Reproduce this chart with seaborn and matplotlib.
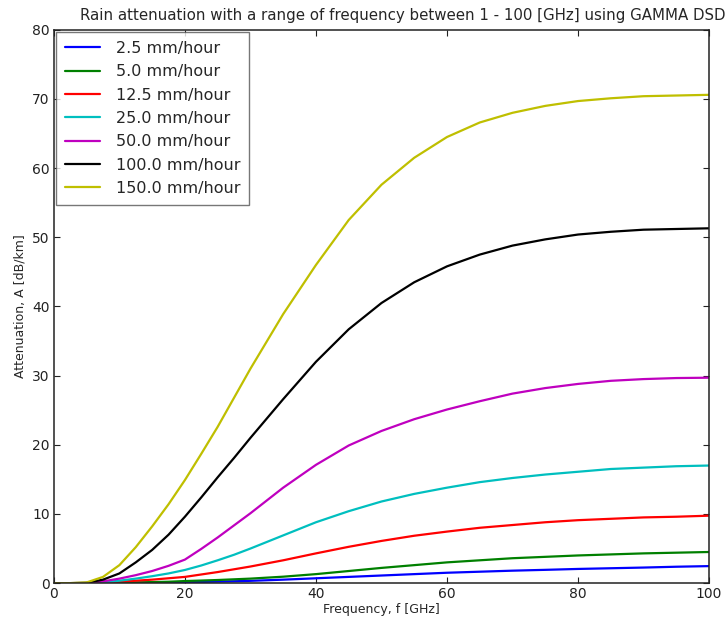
import pandas as pd
import seaborn as sns
import matplotlib
matplotlib.use("Agg")
import matplotlib.pyplot as plt

# frecuencias [GHz]
freq = [0, 2.5, 5, 7.5, 10, 12.5, 15, 17.5, 20, 22.5, 25, 27.5, 30, 35, 40,
        45, 50, 55, 60, 65, 70, 75, 80, 85, 90, 95, 100]

# atenuacion [dB/km] para cada intensidad de lluvia
a_2_5 = [0, 0, 0, 0.01, 0.02, 0.04, 0.07, 0.1, 0.13, 0.17, 0.22, 0.27, 0.33,
         0.5, 0.7, 0.9, 1.1, 1.3, 1.5, 1.65, 1.8, 1.92, 2.05, 2.15, 2.25, 2.37, 2.46]
a_5 = [0, 0, 0, 0.02, 0.05, 0.1, 0.15, 0.2, 0.3, 0.37, 0.45, 0.55, 0.65,
       0.93, 1.3, 1.75, 2.2, 2.6, 3.0, 3.3, 3.6, 3.8, 4.0, 4.15, 4.3, 4.4, 4.5]
a_12_5 = [0, 0, 0, 0.05, 0.2, 0.35, 0.5, 0.7, 0.9, 1.25, 1.6, 2.0, 2.4,
          3.3, 4.3, 5.25, 6.1, 6.85, 7.45, 8.0, 8.4, 8.8, 9.1, 9.3, 9.5, 9.6, 9.75]
a_25 = [0, 0, 0, 0.1, 0.35, 0.65, 1.0, 1.4, 1.9, 2.55, 3.3, 4.1, 5.0,
        6.9, 8.8, 10.4, 11.8, 12.9, 13.8, 14.6, 15.2, 15.7, 16.1, 16.5, 16.7, 16.9, 17.0]
a_50 = [0, 0, 0, 0.25, 0.65, 1.15, 1.75, 2.5, 3.4, 4.95, 6.6, 8.35, 10.1,
        13.8, 17.1, 19.9, 22.0, 23.7, 25.1, 26.3, 27.4, 28.2, 28.8, 29.25, 29.5, 29.65, 29.7]
a_100 = [0, 0, 0.05, 0.5, 1.4, 3.0, 4.8, 7.0, 9.6, 12.4, 15.3, 18.1, 21.0,
         26.6, 32.0, 36.7, 40.5, 43.5, 45.8, 47.5, 48.8, 49.7, 50.4, 50.8, 51.1, 51.2, 51.3]
a_150 = [0, 0, 0.1, 0.9, 2.6, 5.2, 8.2, 11.4, 14.9, 18.7, 22.6, 26.8, 31.0,
         38.9, 46.0, 52.5, 57.6, 61.5, 64.5, 66.6, 68.0, 69.0, 69.7, 70.1, 70.4, 70.5, 70.6]

etiquetas = ["2.5 mm/hour", "5.0 mm/hour", "12.5 mm/hour", "25.0 mm/hour",
             "50.0 mm/hour", "100.0 mm/hour", "150.0 mm/hour"]
series = [a_2_5, a_5, a_12_5, a_25, a_50, a_100, a_150]
colores = [(0, 0, 1), (0, 0.5, 0), (1, 0, 0), (0, 0.75, 0.75),
           (0.75, 0, 0.75), (0, 0, 0), (0.75, 0.75, 0)]

# tabla larga para seaborn
filas = []
for etiqueta, valores in zip(etiquetas, series):
    for f, a in zip(freq, valores):
        filas.append({"f": f, "A": a, "lluvia": etiqueta})
datos = pd.DataFrame(filas)

sns.set_style("ticks")
plt.rcParams["font.family"] = ["DejaVu Sans"]

fig = plt.figure(figsize=(7.28, 6.21), dpi=100)
ax = fig.add_axes([0.074, 0.061, 0.9, 0.891])

sns.lineplot(data=datos, x="f", y="A", hue="lluvia", hue_order=etiquetas,
             palette=colores, linewidth=1.6, ax=ax)

ax.set_xlim(0, 100)
ax.set_ylim(0, 80)
ax.set_xticks([0, 20, 40, 60, 80, 100])
ax.set_yticks(range(0, 81, 10))
ax.tick_params(direction="in", top=True, right=True, length=4,
               labelsize=10, colors="#222222", pad=3)
for s in ax.spines.values():
    s.set_visible(True)
    s.set_linewidth(1.1)
    s.set_color("#222222")

ax.set_xlabel("Frequency, f [GHz]", fontsize=9, labelpad=1)
ax.set_ylabel("Attenuation, A [dB/km]", fontsize=9, labelpad=4)
fig.text(0.997, 0.968,
         "Rain attenuation with a range of frequency between 1 - 100 [GHz] using GAMMA DSD",
         fontsize=10.8, ha="right", va="baseline")

leg = ax.legend(loc="upper left", fontsize=11.5, frameon=True, fancybox=False,
                handlelength=2.2, borderpad=0.55, labelspacing=0.52,
                handletextpad=1.0, borderaxespad=0.15)
leg.get_frame().set_edgecolor("#555555")
leg.get_frame().set_linewidth(1.0)

fig.savefig("out.png", dpi=100)
